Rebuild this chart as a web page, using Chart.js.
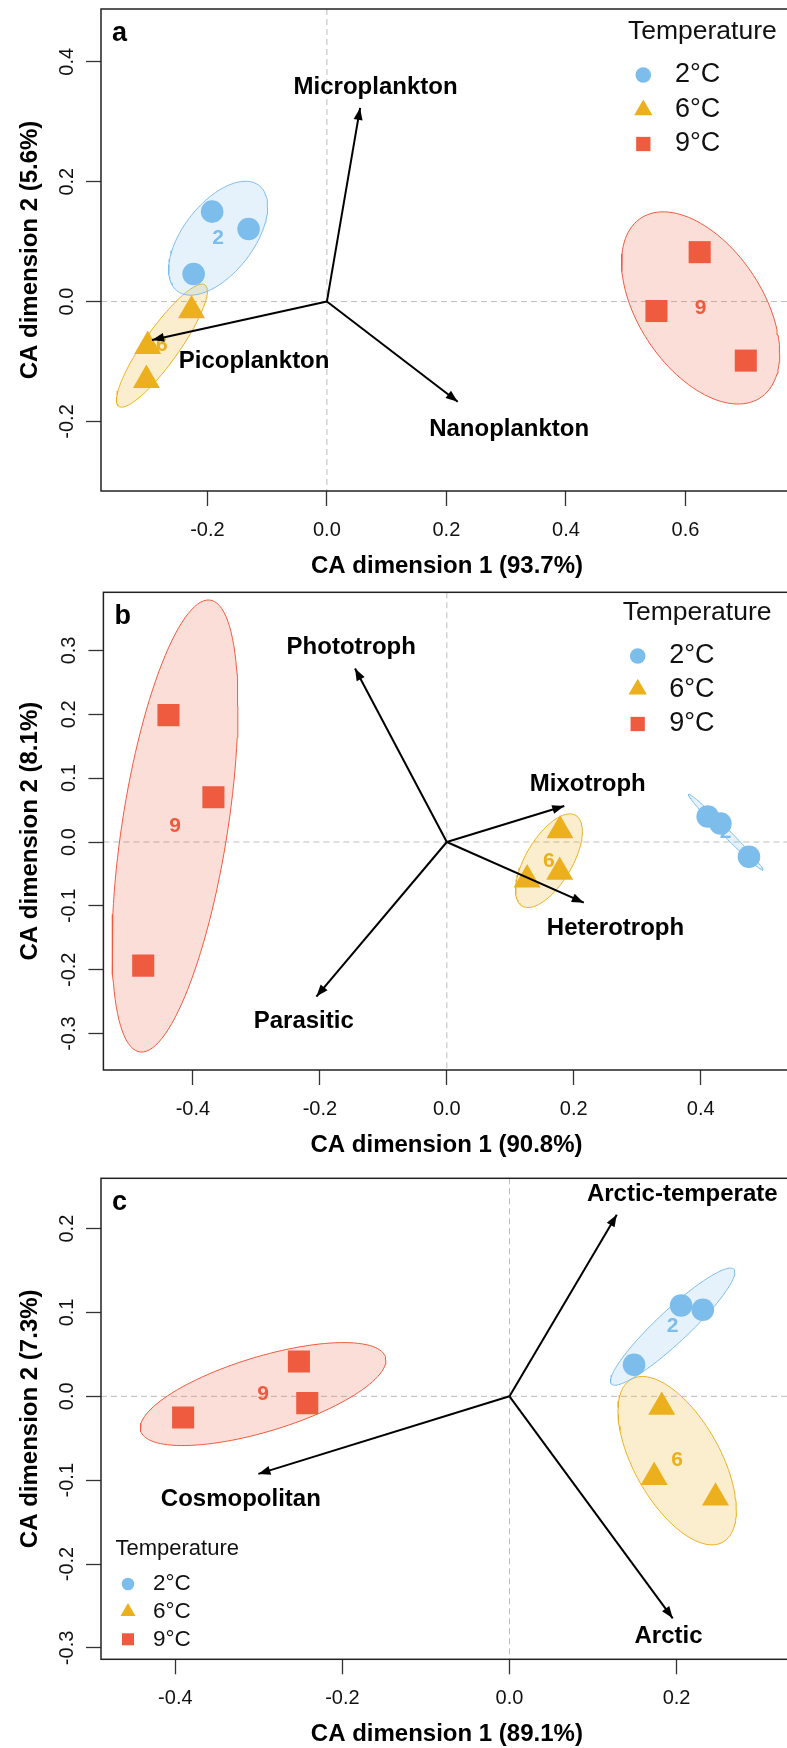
<!DOCTYPE html>
<html>
<head>
<meta charset="utf-8">
<script src="https://cdn.jsdelivr.net/npm/chart.js@4.4.1/dist/chart.umd.min.js"></script>
<style>
  html, body { margin: 0; padding: 0; background: #fff; overflow: hidden; }
  body { width: 787px; height: 1748px; position: relative; }
  .panel { position: absolute; left: 0; }
</style>
</head>
<body>
<div class="panel" style="top:0px"><canvas id="chartA" width="800" height="585"></canvas></div>
<div class="panel" style="top:585px"><canvas id="chartB" width="800" height="580"></canvas></div>
<div class="panel" style="top:1165px"><canvas id="chartC" width="800" height="583"></canvas></div>
<script>
const FONT = "'Liberation Sans', Arial, sans-serif";
Chart.defaults.font.family = FONT;

// temperature groups
const groupNames = ['2°C', '6°C', '9°C'];
const groupTags = ['2', '6', '9'];
const groupColors = ['#7CBDEC', '#ECB01F', '#EE5B3F'];
const groupFills = ['rgba(124,189,236,0.2)', 'rgba(236,176,31,0.22)', 'rgba(238,91,63,0.2)'];
const groupStyles = ['circle', 'triangle', 'rect'];

// panel a - size classes
const xTicksA = [-0.2, 0.0, 0.2, 0.4, 0.6];
const yTicksA = [-0.2, 0.0, 0.2, 0.4];
const a2x = [-0.192, -0.131, -0.223];
const a2y = [0.150, 0.121, 0.046];
const a6x = [-0.2265, -0.2998, -0.302];
const a6y = [-0.015, -0.0745, -0.131];
const a9x = [0.6238, 0.5515, 0.701];
const a9y = [0.0824, -0.0158, -0.0985];
const arrowNamesA = ['Microplankton', 'Picoplankton', 'Nanoplankton'];
const arrowXA = [0.0556, -0.2925, 0.219];
const arrowYA = [0.323, -0.064, -0.167];
const labelXA = [0.0815, -0.1218, 0.305];
const labelYA = [0.358, -0.099, -0.2125];

// panel b - trophic modes
const xTicksB = [-0.4, -0.2, 0.0, 0.2, 0.4];
const yTicksB = [-0.3, -0.2, -0.1, 0.0, 0.1, 0.2, 0.3];
const b2x = [0.411, 0.431, 0.476];
const b2y = [0.040, 0.029, -0.023];
const b6x = [0.1783, 0.1265, 0.1778];
const b6y = [0.018, -0.059, -0.047];
const b9x = [-0.4385, -0.3677, -0.4783];
const b9y = [0.1987, 0.070, -0.1936];
const arrowNamesB = ['Phototroph', 'Mixotroph', 'Heterotroph', 'Parasitic'];
const arrowXB = [-0.1446, 0.185, 0.2158, -0.2055];
const arrowYB = [0.2718, 0.0563, -0.095, -0.242];
const labelXB = [-0.1506, 0.222, 0.2657, -0.2254];
const labelYB = [0.3047, 0.0908, -0.135, -0.2813];

// panel c - biogeography
const xTicksC = [-0.4, -0.2, 0.0, 0.2];
const yTicksC = [-0.3, -0.2, -0.1, 0.0, 0.1, 0.2];
const c2x = [0.2054, 0.2314, 0.1491];
const c2y = [0.1084, 0.1032, 0.0376];
const c6x = [0.1822, 0.1732, 0.2466];
const c6y = [-0.0128, -0.0964, -0.121];
const c9x = [-0.2521, -0.2421, -0.3907];
const c9y = [0.0415, -0.0081, -0.0253];
const arrowNamesC = ['Arctic-temperate', 'Cosmopolitan', 'Arctic'];
const arrowXC = [0.1284, -0.3006, 0.1954];
const arrowYC = [0.2166, -0.0925, -0.2647];
const labelXC = [0.2068, -0.3216, 0.1903];
const labelYC = [0.2405, -0.1227, -0.2858];

const ELLIPSE_K = 1.77; // scale of the dispersion ellipses

function mean(a) { return a.reduce((s, v) => s + v, 0) / a.length; }

function ellipsePoints(xs, ys) {
  const mx = mean(xs), my = mean(ys), n = xs.length;
  let sxx = 0, syy = 0, sxy = 0;
  for (let i = 0; i < n; i++) {
    sxx += (xs[i] - mx) ** 2;
    syy += (ys[i] - my) ** 2;
    sxy += (xs[i] - mx) * (ys[i] - my);
  }
  sxx /= n - 1; syy /= n - 1; sxy /= n - 1;
  const a = Math.sqrt(sxx), b = sxy / a, c = Math.sqrt(Math.max(syy - b * b, 0));
  const pts = [];
  for (let i = 0; i <= 120; i++) {
    const t = i / 120 * Math.PI * 2;
    pts.push({ x: mx + ELLIPSE_K * a * Math.cos(t), y: my + ELLIPSE_K * (b * Math.cos(t) + c * Math.sin(t)) });
  }
  return pts;
}

function fmt(v) { return (Math.abs(v) < 1e-9 ? 0 : v).toFixed(1); }

function marker(ctx, style, x, y, r) {
  ctx.beginPath();
  if (style === 'circle') {
    ctx.arc(x, y, r, 0, Math.PI * 2);
  } else if (style === 'triangle') {
    ctx.moveTo(x, y - r);
    ctx.lineTo(x + r * Math.sqrt(3) / 2, y + r / 2);
    ctx.lineTo(x - r * Math.sqrt(3) / 2, y + r / 2);
    ctx.closePath();
  } else {
    const s = r * Math.SQRT1_2;
    ctx.rect(x - s, y - s, 2 * s, 2 * s);
  }
  ctx.fill();
}

function makePanel(p) {
  const W = 800;
  const datasets = [];
  p.pts.forEach((g, i) => {
    datasets.push({
      data: ellipsePoints(g[0], g[1]), showLine: true, fill: 'shape',
      borderColor: groupColors[i], borderWidth: 1, backgroundColor: groupFills[i],
      pointRadius: 0, order: 3, role: 'ellipse'
    });
  });
  p.pts.forEach((g, i) => {
    datasets.push({
      data: g[0].map((x, j) => ({ x: x, y: g[1][j] })), showLine: false,
      pointStyle: groupStyles[i], pointRadius: i === 0 ? 11.3 : 15.6,
      backgroundColor: groupColors[i], borderColor: groupColors[i], borderWidth: 0, order: 2
    });
  });
  p.arrows.names.forEach((nm, i) => {
    datasets.push({
      data: [{ x: 0, y: 0 }, { x: p.arrows.x[i], y: p.arrows.y[i] }], showLine: true,
      borderColor: '#000', borderWidth: 2, pointRadius: 0, fill: false, order: 1
    });
  });

  let ellipsesDrawn = 0;
  const panelPlugin = {
    id: 'panelDecor',
    beforeDatasetsDraw(chart) {
      const { ctx, chartArea: ca, scales: { x, y } } = chart;
      ellipsesDrawn = 0;
      ctx.save();
      ctx.strokeStyle = '#bdbdbd';
      ctx.lineWidth = 1;
      ctx.setLineDash([6, 4]);
      const x0 = x.getPixelForValue(0), y0 = y.getPixelForValue(0);
      ctx.beginPath();
      ctx.moveTo(x0, ca.top); ctx.lineTo(x0, ca.bottom);
      ctx.moveTo(ca.left, y0); ctx.lineTo(ca.right, y0);
      ctx.stroke();
      ctx.restore();
    },
    afterDatasetDraw(chart, args) {
      if (chart.data.datasets[args.index].role !== 'ellipse') return;
      ellipsesDrawn++;
      if (ellipsesDrawn < 3) return;
      const { ctx, scales: { x, y } } = chart;
      ctx.save();
      ctx.font = 'bold 21px ' + FONT;
      ctx.textAlign = 'center';
      ctx.textBaseline = 'middle';
      p.pts.forEach((g, i) => {
        ctx.fillStyle = groupColors[i];
        ctx.fillText(groupTags[i], x.getPixelForValue(mean(g[0])), y.getPixelForValue(mean(g[1])));
      });
      ctx.restore();
    },
    afterDatasetsDraw(chart) {
      const { ctx, chartArea: ca, scales: { x, y } } = chart;
      ctx.save();
      // arrow heads
      const ox = x.getPixelForValue(0), oy = y.getPixelForValue(0);
      ctx.fillStyle = '#000';
      p.arrows.names.forEach((nm, i) => {
        const tx = x.getPixelForValue(p.arrows.x[i]), ty = y.getPixelForValue(p.arrows.y[i]);
        const len = Math.hypot(tx - ox, ty - oy);
        const ux = (tx - ox) / len, uy = (ty - oy) / len;
        const hl = 12, hw = 4.5;
        ctx.beginPath();
        ctx.moveTo(tx, ty);
        ctx.lineTo(tx - ux * hl - uy * hw, ty - uy * hl + ux * hw);
        ctx.lineTo(tx - ux * hl + uy * hw, ty - uy * hl - ux * hw);
        ctx.closePath();
        ctx.fill();
      });
      // arrow labels
      ctx.font = 'bold 24px ' + FONT;
      ctx.textAlign = 'center';
      ctx.textBaseline = 'middle';
      p.arrows.names.forEach((nm, i) => {
        ctx.fillText(nm, x.getPixelForValue(p.arrows.lx[i]), y.getPixelForValue(p.arrows.ly[i]));
      });
      // box
      ctx.strokeStyle = '#222';
      ctx.lineWidth = 1.5;
      ctx.strokeRect(ca.left, ca.top, ca.right - ca.left, ca.bottom - ca.top);
      // y tick labels (rotated like R)
      ctx.fillStyle = '#111';
      ctx.font = '20px ' + FONT;
      p.yTicks.forEach(v => {
        ctx.save();
        ctx.translate(ca.left - 33.5, y.getPixelForValue(v));
        ctx.rotate(-Math.PI / 2);
        ctx.fillText(fmt(v), 0, 0);
        ctx.restore();
      });
      // axis titles
      ctx.fillStyle = '#000';
      ctx.font = 'bold 24px ' + FONT;
      ctx.fillText(p.xTitle, (ca.left + ca.right) / 2, ca.bottom + 75);
      ctx.save();
      ctx.translate(30, (ca.top + ca.bottom) / 2);
      ctx.rotate(-Math.PI / 2);
      ctx.fillText(p.yTitle, 0, 0);
      ctx.restore();
      // panel letter
      ctx.font = 'bold 27px ' + FONT;
      ctx.textAlign = 'left';
      ctx.textBaseline = 'alphabetic';
      ctx.fillText(p.letter, ca.left + 11, ca.top + 32);
      // legend
      const lg = p.legend;
      ctx.fillStyle = '#111';
      ctx.textBaseline = 'middle';
      ctx.font = lg.titleSize + 'px ' + FONT;
      ctx.fillText('Temperature', lg.titleX, lg.titleY);
      ctx.font = lg.itemSize + 'px ' + FONT;
      groupNames.forEach((g, i) => {
        ctx.fillStyle = groupColors[i];
        marker(ctx, groupStyles[i], lg.symX, lg.rows[i], lg.radii[i]);
        ctx.fillStyle = '#111';
        ctx.fillText(g, lg.textX, lg.rows[i]);
      });
      ctx.restore();
    }
  };

  const box = p.box;
  return new Chart(document.getElementById(p.id), {
    type: 'line',
    data: { datasets: datasets },
    options: {
      responsive: false,
      animation: false,
      events: [],
      layout: { autoPadding: false, padding: { top: box.t, right: W - box.r, left: 0, bottom: 0 } },
      plugins: { legend: { display: false }, tooltip: { enabled: false } },
      scales: {
        x: {
          type: 'linear', min: p.xRange[0], max: p.xRange[1], bounds: 'data',
          afterBuildTicks: s => { s.ticks = p.xTicks.map(v => ({ value: v })); },
          afterFit: s => { s.height = p.H - box.b; },
          grid: { display: true, drawOnChartArea: false, drawTicks: true, tickLength: 15, tickColor: '#333', tickWidth: 1.3 },
          border: { display: false },
          ticks: { font: { size: 20 }, color: '#111', padding: 12, autoSkip: false, maxRotation: 0, callback: v => fmt(v) }
        },
        y: {
          type: 'linear', min: p.yRange[0], max: p.yRange[1], bounds: 'data',
          afterBuildTicks: s => { s.ticks = p.yTicks.map(v => ({ value: v })); },
          afterFit: s => { s.width = box.l; },
          grid: { display: true, drawOnChartArea: false, drawTicks: true, tickLength: 15, tickColor: '#333', tickWidth: 1.3 },
          border: { display: false },
          ticks: { display: false }
        }
      }
    },
    plugins: [panelPlugin]
  });
}

makePanel({
  id: 'chartA', H: 585, box: { l: 101, t: 9, r: 793, b: 491 },
  xRange: [-0.378, 0.780], yRange: [-0.316, 0.488], xTicks: xTicksA, yTicks: yTicksA,
  letter: 'a', xTitle: 'CA dimension 1 (93.7%)', yTitle: 'CA dimension 2 (5.6%)',
  pts: [[a2x, a2y], [a6x, a6y], [a9x, a9y]],
  arrows: { names: arrowNamesA, x: arrowXA, y: arrowYA, lx: labelXA, ly: labelYA },
  legend: { titleX: 628, titleY: 31.7, symX: 643.3, textX: 675, rows: [75, 110, 144], titleSize: 26.5, itemSize: 27, radii: [7.8, 10.6, 10.1] }
});

makePanel({
  id: 'chartB', H: 580, box: { l: 103.4, t: 7.3, r: 789.6, b: 485 },
  xRange: [-0.541, 0.540], yRange: [-0.357, 0.391], xTicks: xTicksB, yTicks: yTicksB,
  letter: 'b', xTitle: 'CA dimension 1 (90.8%)', yTitle: 'CA dimension 2 (8.1%)',
  pts: [[b2x, b2y], [b6x, b6y], [b9x, b9y]],
  arrows: { names: arrowNamesB, x: arrowXB, y: arrowYB, lx: labelXB, ly: labelYB },
  legend: { titleX: 622.7, titleY: 27.3, symX: 637.7, textX: 669.3, rows: [71, 104.3, 139], titleSize: 26.5, itemSize: 27, radii: [7.8, 10.6, 10.1] }
});

makePanel({
  id: 'chartC', H: 583, box: { l: 101, t: 13.3, r: 792.7, b: 494.3 },
  xRange: [-0.489, 0.339], yRange: [-0.3136, 0.260], xTicks: xTicksC, yTicks: yTicksC,
  letter: 'c', xTitle: 'CA dimension 1 (89.1%)', yTitle: 'CA dimension 2 (7.3%)',
  pts: [[c2x, c2y], [c6x, c6y], [c9x, c9y]],
  arrows: { names: arrowNamesC, x: arrowXC, y: arrowYC, lx: labelXC, ly: labelYC },
  legend: { titleX: 115.5, titleY: 384, symX: 128, textX: 153, rows: [419, 446.7, 474.3], titleSize: 22, itemSize: 22.5, radii: [6.3, 8.7, 8.5] }
});
</script>
</body>
</html>
